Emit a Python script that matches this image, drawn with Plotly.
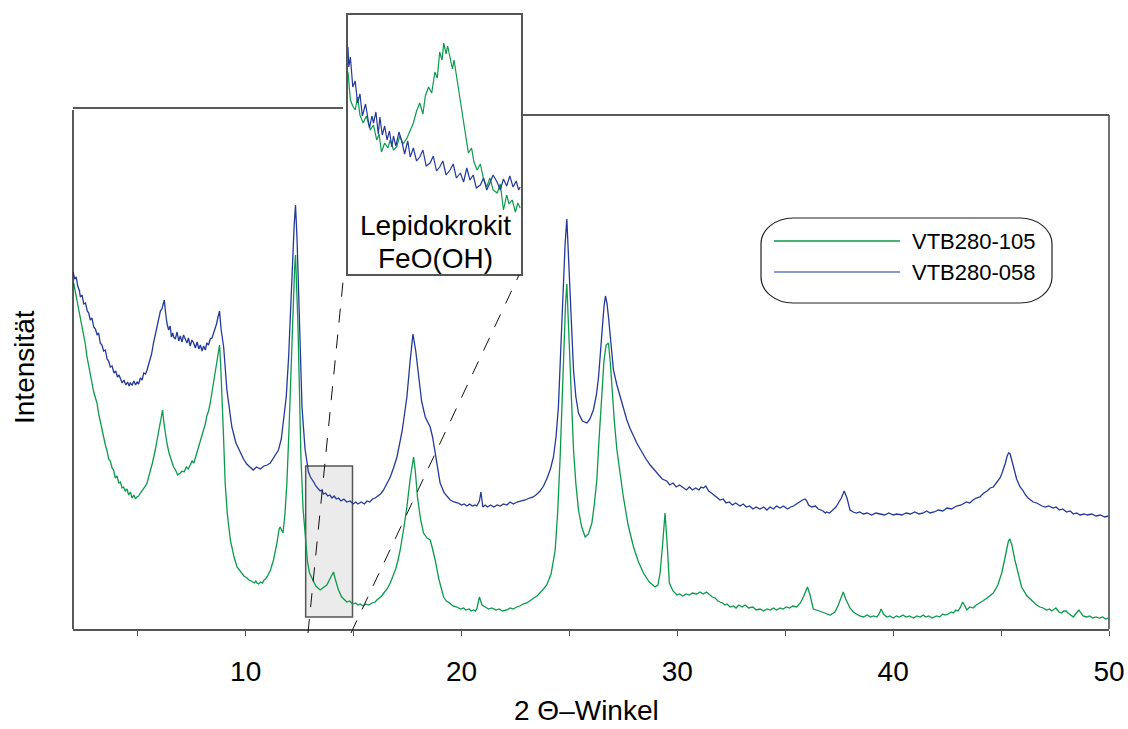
import plotly.graph_objects as go

# ---------------- data ----------------
# 2-theta positions and intensities (arbitrary units) for sample VTB280-058 (blue)
blue_2theta = [2.00, 2.08, 2.15, 2.22, 2.30, 2.34, 2.42, 2.50, 2.58, 2.66, 2.73, 2.80, 2.88, 2.96,
               3.04, 3.12, 3.19, 3.26, 3.34, 3.42, 3.50, 3.58, 3.65, 3.73, 3.81, 3.90, 3.98, 4.06,
               4.13, 4.19, 4.28, 4.36, 4.45, 4.53, 4.60, 4.65, 4.74, 4.82, 4.90, 4.97, 5.04, 5.12,
               5.20, 5.28, 5.36, 5.43, 5.55, 5.64, 5.73, 5.85, 5.97, 6.05, 6.12, 6.18, 6.23, 6.28,
               6.35, 6.43, 6.50, 6.56, 6.62, 6.66, 6.74, 6.82, 6.90, 6.97, 7.05, 7.12, 7.20, 7.28,
               7.35, 7.43, 7.51, 7.59, 7.67, 7.75, 7.83, 7.90, 7.98, 8.05, 8.13, 8.20, 8.28, 8.36,
               8.44, 8.55, 8.65, 8.72, 8.79, 8.86, 8.98, 9.13, 9.36, 9.55, 9.75, 9.90, 10.05, 10.21,
               10.35, 10.50, 10.68, 10.85, 11.00, 11.14, 11.30, 11.52, 11.65, 11.75, 11.88, 11.99,
               12.08, 12.17, 12.25, 12.31, 12.38, 12.45, 12.53, 12.61, 12.75,
               12.91, 13.00, 13.10, 13.18, 13.25, 13.35, 13.45, 13.53, 13.60, 13.70, 13.80, 13.90,
               14.00, 14.10, 14.20, 14.30, 14.42, 14.55, 14.68, 14.84, 14.98, 15.10, 15.20, 15.35,
               15.50, 15.62, 15.75, 15.88, 16.00, 16.12, 16.25, 16.39, 16.55, 16.70, 16.85, 17.01,
               17.25, 17.47, 17.62, 17.75, 17.88, 18.01, 18.15, 18.32, 18.45, 18.55, 18.66, 18.78,
               18.90, 19.01, 19.20,
               19.48, 19.65, 19.85, 20.00, 20.12, 20.25, 20.38, 20.50, 20.62, 20.71, 20.83, 20.90,
               20.99, 21.10, 21.20, 21.35, 21.50, 21.65, 21.79, 21.95, 22.10, 22.25, 22.40, 22.57,
               22.75, 22.95, 23.15, 23.33, 23.50, 23.64, 23.80, 23.95,
               24.12, 24.26, 24.38, 24.49, 24.60, 24.70, 24.80, 24.88, 24.95, 25.03, 25.10, 25.19,
               25.30, 25.42, 25.60, 25.81, 25.95, 26.11, 26.25, 26.35, 26.45, 26.53, 26.60, 26.67,
               26.74, 26.81, 26.92, 27.04, 27.20, 27.35, 27.50, 27.66, 27.80, 27.90, 28.00,
               28.12, 28.25, 28.40, 28.55, 28.74, 28.90, 29.10, 29.30, 29.51, 29.65, 29.80, 29.95,
               30.10, 30.28, 30.42, 30.56, 30.70, 30.85, 31.00, 31.10, 31.21, 31.32, 31.45, 31.58,
               31.70, 31.84, 31.98, 32.12, 32.26, 32.40, 32.55, 32.70, 32.91, 33.05, 33.20, 33.35,
               33.50, 33.65, 33.83, 34.00, 34.15, 34.30, 34.45, 34.60, 34.76, 34.92, 35.10, 35.25,
               35.38,
               35.52, 35.65, 35.80, 35.92, 36.00, 36.08, 36.23, 36.40, 36.53, 36.65, 36.75, 36.85,
               36.92, 37.05, 37.20, 37.35, 37.46, 37.60, 37.73, 37.86, 38.00, 38.15, 38.30, 38.45,
               38.62, 38.80, 39.00, 39.20, 39.40, 39.60, 39.80, 40.00, 40.17, 40.40, 40.60, 40.80,
               41.00, 41.20, 41.40, 41.55, 41.71, 41.90, 42.10, 42.30, 42.50, 42.70, 42.94, 43.15,
               43.40, 43.55, 43.70, 43.85, 44.02, 44.20, 44.35, 44.50, 44.64, 44.75, 44.85, 44.95,
               45.03, 45.12, 45.20, 45.28, 45.35, 45.42, 45.50, 45.57, 45.65, 45.72, 45.80, 45.88,
               46.00, 46.10, 46.25, 46.40, 46.49, 46.65, 46.80, 46.90, 47.05, 47.20, 47.42, 47.55,
               47.70, 47.85, 48.04, 48.20, 48.35, 48.50, 48.66, 48.85, 49.00, 49.20, 49.40, 49.60,
               49.80, 49.97]
blue_int = [357, 350, 352, 343, 338, 332, 334, 325, 326, 318, 316, 309, 311, 302,
            300, 294, 296, 286, 284, 278, 279, 270, 268, 262, 263, 256, 258, 252,
            254, 251, 246, 249, 244, 247, 243, 246, 244, 248, 244, 247, 245, 251,
            249, 256, 255, 259, 268, 275, 286, 298, 312, 318, 320, 326, 329, 318,
            306, 299, 303, 292, 296, 292, 290, 297, 288, 293, 287, 294, 289, 286,
            291, 283, 289, 286, 281, 287, 280, 284, 278, 283, 279, 286, 284, 290,
            291, 298, 305, 312, 318, 300, 282, 239, 202, 186, 176, 170, 165, 162,
            159, 162, 160, 163, 164, 166, 171, 179, 190, 206, 232, 272,
            318, 372, 405, 424, 390, 339, 275, 222, 180,
            157, 152, 149, 146, 143, 141, 138, 139, 135, 136, 133, 134,
            131, 133, 130, 131, 128, 130, 127, 128, 125, 127, 125, 127,
            125, 128, 127, 130, 131, 133, 135, 139, 145, 152, 161, 172,
            198, 232, 268, 295, 278, 252, 228, 212, 206, 202, 192, 176,
            160, 146, 136,
            129, 127, 126, 124, 125, 123, 125, 123, 124, 123, 128, 137,
            122, 124, 122, 124, 122, 124, 123, 125, 124, 127, 125, 127,
            128, 129, 131, 132, 135, 138, 143, 150,
            160, 172, 192, 222, 280, 339, 385, 410, 372, 329, 290, 259,
            232, 216, 208, 206, 210, 219, 234, 252, 280, 306, 322, 333,
            326, 312, 285, 259, 244, 232, 220, 209, 201, 196, 191,
            186, 181, 175, 170, 164, 160, 155, 150, 148, 144, 146, 142,
            144, 141, 139, 142, 139, 141, 139, 142, 141, 143, 138, 136,
            134, 131, 129, 130, 126, 127, 124, 126, 123, 125, 122, 123,
            120, 122, 120, 122, 119, 122, 120, 123, 121, 123, 120, 122,
            123,
            125, 127, 129, 130, 128, 124, 122, 123, 120, 119, 118, 116,
            117, 116, 119, 122, 126, 131, 138, 131, 119, 117, 116, 117,
            115, 116, 114, 116, 115, 114, 116, 114, 115, 114, 116, 115,
            117, 115, 116, 118, 116, 117, 119, 118, 121, 120, 123, 124,
            127, 126, 129, 131, 132, 136, 138, 141, 142, 145, 148, 151,
            155, 160, 166, 173, 176, 175, 168, 162, 155, 150, 146, 142,
            139, 135, 131, 129, 127, 126, 124, 123, 122, 123, 121, 122,
            119, 120, 117, 118, 115, 116, 114, 115, 114, 115, 113, 114,
            112, 113]

# Sample VTB280-105 (green)
green_2theta = [2.03, 2.10, 2.18, 2.26, 2.34, 2.42, 2.49, 2.57, 2.65, 2.72, 2.80, 2.88, 2.96, 3.04,
                3.11, 3.19, 3.27, 3.34, 3.42, 3.50, 3.58, 3.65, 3.73, 3.81, 3.88, 3.96, 4.04, 4.12,
                4.20, 4.27, 4.34, 4.42, 4.50, 4.58, 4.66, 4.74, 4.82, 4.90, 4.96, 5.04, 5.12, 5.20,
                5.28, 5.36, 5.43, 5.55, 5.68, 5.81, 5.93, 6.04, 6.10, 6.15, 6.22, 6.28, 6.35, 6.45,
                6.55, 6.66, 6.75, 6.85, 6.97, 7.05, 7.15, 7.25, 7.34, 7.43, 7.52, 7.60, 7.68, 7.74,
                7.82, 7.90, 7.97, 8.05, 8.13, 8.20, 8.28, 8.36, 8.45, 8.52, 8.59, 8.66, 8.72, 8.79,
                8.84, 8.90, 8.97, 9.05, 9.15, 9.29, 9.45, 9.60, 9.80,
                9.92, 10.06, 10.15, 10.25, 10.33, 10.40, 10.47, 10.52, 10.60, 10.70, 10.78, 10.85,
                10.92, 10.99,
                11.15, 11.29, 11.45, 11.55, 11.60, 11.67, 11.73, 11.82, 11.91, 12.00, 12.10, 12.16,
                12.22, 12.27, 12.31, 12.36, 12.42, 12.49, 12.56, 12.66, 12.76, 12.86, 12.96, 13.10,
                13.25, 13.45, 13.60, 13.76, 13.90, 14.00, 14.07, 14.15, 14.30,
                14.45, 14.57, 14.69, 14.82, 14.95, 15.10, 15.20, 15.31, 15.45, 15.57, 15.70, 15.85,
                16.00, 16.08, 16.20, 16.30, 16.40, 16.55, 16.70, 16.82, 16.95, 17.05, 17.16,
                17.32, 17.47, 17.62, 17.72, 17.78, 17.86, 17.96, 18.10, 18.24, 18.40, 18.55, 18.66,
                18.78, 18.95,
                19.17, 19.30, 19.45, 19.60, 19.79, 19.95, 20.10, 20.20, 20.35, 20.45, 20.56, 20.65,
                20.72, 20.83, 20.95, 21.10, 21.25, 21.40, 21.60, 21.75, 21.90, 22.10, 22.25, 22.40,
                22.55, 22.70, 22.85, 23.03, 23.20, 23.35, 23.50, 23.64, 23.80, 23.95, 24.05, 24.15,
                24.34, 24.46, 24.57, 24.67, 24.76, 24.82, 24.88, 24.94, 25.00, 25.10, 25.19, 25.30,
                25.42, 25.57, 25.73, 25.88, 26.04, 26.15, 26.27, 26.38, 26.50, 26.60, 26.70, 26.81,
                26.90, 26.97, 27.08, 27.20, 27.35, 27.50, 27.72, 27.97, 28.20, 28.43, 28.70, 28.97,
                29.10, 29.20, 29.32, 29.43, 29.53, 29.63, 29.80,
                29.98, 30.10, 30.25, 30.40, 30.55, 30.70, 30.90, 31.05, 31.20, 31.35, 31.52, 31.62,
                31.75, 31.88, 31.98, 32.10, 32.20, 32.30, 32.45, 32.60, 32.72, 32.85, 33.00, 33.14,
                33.30, 33.50, 33.65, 33.83, 34.00, 34.15, 34.30, 34.45, 34.60, 34.76, 34.90, 35.05,
                35.20, 35.35, 35.53,
                35.70, 35.84, 35.95, 36.03, 36.15, 36.30, 36.58, 36.80, 37.08, 37.30, 37.46, 37.58,
                37.69, 37.80,
                38.00, 38.15, 38.30, 38.45, 38.62, 38.80, 38.95, 39.10, 39.24, 39.35, 39.44, 39.55,
                39.70, 39.85, 40.00, 40.15, 40.30, 40.45, 40.60, 40.75, 40.94, 41.10, 41.25, 41.40,
                41.50, 41.65, 41.80, 42.02, 42.15, 42.30, 42.40, 42.55, 42.70, 42.79, 42.90, 43.00,
                43.10, 43.22, 43.30, 43.41, 43.55, 43.70, 43.85, 44.02, 44.15,
                44.35, 44.64, 44.85, 45.03, 45.15, 45.26, 45.34, 45.41, 45.50, 45.64, 45.80, 45.95,
                46.20, 46.35, 46.49, 46.65, 46.80, 46.95, 47.11, 47.25, 47.35, 47.45, 47.54, 47.68,
                47.81, 47.90, 48.01, 48.10, 48.20, 48.35, 48.45, 48.55, 48.61, 48.70, 48.80, 48.97,
                49.10, 49.25, 49.40, 49.55, 49.70, 49.85, 49.97]
green_int = [346, 338, 330, 322, 314, 305, 296, 285, 272, 263, 252, 246, 237, 232,
             226, 215, 206, 200, 192, 184, 178, 170, 168, 161, 159, 151, 153, 146,
             147, 141, 142, 138, 140, 134, 137, 131, 134, 130, 132, 133, 136, 138,
             141, 143, 146, 155, 166, 179, 193, 206, 213, 219, 205, 195, 186, 176,
             168, 162, 159, 154, 156, 158, 157, 162, 160, 164, 168, 166, 172, 176,
             180, 186, 192, 199, 205, 213, 218, 226, 238, 248, 259, 268, 276, 284,
             265, 239, 195, 146, 115, 89, 73, 62, 56,
             53, 51, 49, 48, 47, 46, 48, 46, 45, 47, 46, 49,
             50, 52,
             59, 69, 86, 100, 102, 98, 96, 115, 146, 195, 256, 305,
             339, 362, 374, 350, 306, 240, 172, 120, 89, 68, 56, 50,
             43, 39, 41, 44, 50, 55, 57, 50, 39,
             32, 29, 27, 28, 25, 26, 24, 25, 23, 25, 24, 26,
             27, 29, 31, 33, 36, 40, 46, 52, 60, 68, 79,
             100, 122, 150, 165, 172, 158, 132, 110, 96, 91, 89, 80,
             69, 50,
             32, 28, 26, 23, 22, 20, 21, 19, 20, 18, 19, 18,
             21, 32, 24, 22, 20, 21, 19, 20, 18, 19, 21, 20,
             22, 23, 25, 26, 29, 31, 33, 36, 40, 44, 49, 55,
             79, 118, 172, 240, 289, 325, 345, 310, 272, 215, 179, 145,
             119, 102, 92, 95, 106, 124, 149, 192, 239, 268, 284, 286,
             265, 239, 208, 179, 154, 132, 104, 82, 67, 56, 47, 42,
             44, 56, 85, 116, 85, 46, 38,
             34, 35, 33, 35, 34, 36, 35, 37, 35, 37, 34, 32,
             31, 28, 27, 26, 24, 25, 22, 23, 21, 24, 22, 24,
             21, 22, 19, 20, 18, 20, 19, 21, 19, 21, 20, 22,
             21, 23, 22,
             26, 32, 38, 42, 34, 20, 18, 16, 14, 17, 24, 31,
             37, 30,
             21, 17, 15, 13, 12, 14, 12, 13, 12, 15, 20, 15,
             12, 13, 11, 13, 12, 14, 12, 13, 11, 13, 12, 14,
             12, 13, 11, 13, 12, 15, 14, 15, 17, 16, 19, 18,
             21, 27, 24, 19, 22, 21, 24, 26, 28,
             31, 36, 44, 56, 68, 82, 88, 90, 84, 69, 55, 42,
             33, 30, 27, 24, 22, 21, 19, 20, 18, 20, 21, 17,
             16, 18, 18, 16, 14, 12, 15, 18, 19, 16, 13, 12,
             13, 11, 12, 11, 12, 10, 11]

# Inset: zoomed section 12.8 - 15.0 deg (lepidocrocite reflection), own vertical scale
inset_2theta_green = [12.78, 12.81, 12.84, 12.87, 12.90, 12.93, 12.97, 13.01, 13.06, 13.10, 13.14, 13.17,
                      13.20, 13.24, 13.28, 13.31, 13.35, 13.39, 13.43, 13.47, 13.52, 13.56, 13.60, 13.64,
                      13.68, 13.72, 13.75, 13.79, 13.83, 13.87, 13.90, 13.93, 13.96, 13.98, 14.01, 14.03,
                      14.06, 14.09, 14.11, 14.13, 14.16, 14.19, 14.22, 14.25, 14.29, 14.33, 14.36, 14.40,
                      14.44, 14.48, 14.52, 14.56, 14.60, 14.65, 14.69, 14.73, 14.77, 14.80, 14.84, 14.88,
                      14.91, 14.94]
inset_int_green = [202, 174, 168, 164, 177, 159, 151, 158, 144, 149, 134, 140,
                   122, 131, 126, 134, 124, 127, 138, 130, 136, 144, 151, 163,
                   171, 160, 178, 187, 181, 202, 196, 222, 214, 231, 220, 228,
                   216, 205, 214, 204, 188, 174, 158, 141, 121, 126, 112, 104,
                   110, 95, 87, 96, 84, 81, 90, 64, 79, 70, 74, 62,
                   71, 66]
inset_2theta_blue = [12.78, 12.79, 12.81, 12.84, 12.87, 12.90, 12.93, 12.96, 13.00, 13.02, 13.05, 13.08,
                     13.10, 13.13, 13.16, 13.18, 13.21, 13.24, 13.27, 13.30, 13.33, 13.35, 13.38, 13.42,
                     13.46, 13.49, 13.53, 13.56, 13.60, 13.64, 13.68, 13.72, 13.76, 13.81, 13.85, 13.89,
                     13.93, 13.97, 14.01, 14.06, 14.10, 14.14, 14.19, 14.23, 14.27, 14.31, 14.35, 14.39,
                     14.44, 14.48, 14.52, 14.56, 14.60, 14.65, 14.69, 14.73, 14.77, 14.81, 14.85, 14.89,
                     14.92, 14.94]
inset_int_blue = [227, 207, 217, 187, 193, 171, 180, 158, 170, 161, 146, 158,
                  151, 162, 140, 157, 139, 148, 134, 143, 127, 138, 128, 142,
                  131, 120, 133, 117, 126, 113, 117, 124, 108, 111, 118, 103,
                  107, 113, 99, 104, 110, 96, 101, 92, 106, 94, 99, 86,
                  89, 96, 84, 91, 99, 92, 84, 95, 88, 98, 87, 93,
                  84, 87]

assert len(blue_2theta) == len(blue_int), (len(blue_2theta), len(blue_int))
assert len(green_2theta) == len(green_int), (len(green_2theta), len(green_int))
assert len(inset_2theta_green) == len(inset_int_green)
assert len(inset_2theta_blue) == len(inset_int_blue)

series_names = ["VTB280-105", "VTB280-058"]
tick_vals = [5, 10, 15, 20, 25, 30, 35, 40, 45, 50]
tick_text = ["", "10", "", "20", "", "30", "", "40", "", "50"]
x_range = [2, 50]
zoom_range = [12.78, 14.95]
zoom_rect_int = [12, 163]

# ---------------- layout helpers ----------------
W, H = 1128, 729
L, R, T, B = 73, 19, 15, 100
PW = W - L - R
PH = H - T - B
FONT = "Liberation Sans, Arial, sans-serif"
GREEN = "#0B9A4B"
BLUE = "#23399A"


def px(xp):
    return (xp - L) / PW


def py(yp):
    return (H - B - yp) / PH


fig = go.Figure()

fig.add_trace(go.Scatter(x=green_2theta, y=green_int, mode="lines", name=series_names[0],
                         line=dict(color=GREEN, width=1.3), showlegend=False))
fig.add_trace(go.Scatter(x=blue_2theta, y=blue_int, mode="lines", name=series_names[1],
                         line=dict(color=BLUE, width=1.3), showlegend=False))

fig.add_trace(go.Scatter(x=inset_2theta_green, y=inset_int_green, mode="lines",
                         line=dict(color=GREEN, width=1.2), showlegend=False,
                         xaxis="x2", yaxis="y2"))
fig.add_trace(go.Scatter(x=inset_2theta_blue, y=inset_int_blue, mode="lines",
                         line=dict(color=BLUE, width=1.2), showlegend=False,
                         xaxis="x2", yaxis="y2"))

shapes = []
# zoom rectangle
shapes.append(dict(type="rect", xref="x", yref="y", x0=zoom_range[0], x1=zoom_range[1],
                   y0=zoom_rect_int[0], y1=zoom_rect_int[1], fillcolor="#EBEBEB",
                   line=dict(color="#555555", width=1.5), layer="below"))
# dashed connectors
for (a, b, c, d) in [(308, 633, 344, 272), (351, 633, 519, 275)]:
    shapes.append(dict(type="line", xref="paper", yref="paper", x0=px(a), y0=py(b), x1=px(c), y1=py(d),
                       line=dict(color="#111111", width=1, dash="14px,12px")))
# frame lines
frame = [(73, 110, 73, 629, "#222222"), (73, 108, 343, 108, "#222222"),
         (523, 115, 1109, 115, "#222222"), (1109, 115, 1109, 629, "#444444")]
for (a, b, c, d, col) in frame:
    shapes.append(dict(type="line", xref="paper", yref="paper", x0=px(a), y0=py(b), x1=px(c), y1=py(d),
                       line=dict(color=col, width=1.5)))

# legend box (rounded)
lx0, lx1, ly0, ly1, rx, ry = 761, 1052, 218, 303, 32, 26
k = 0.55
path = (f"M {px(lx0+rx)} {py(ly0)} L {px(lx1-rx)} {py(ly0)} "
        f"C {px(lx1-rx+k*rx)} {py(ly0)} {px(lx1)} {py(ly0+ry-k*ry)} {px(lx1)} {py(ly0+ry)} "
        f"L {px(lx1)} {py(ly1-ry)} "
        f"C {px(lx1)} {py(ly1-ry+k*ry)} {px(lx1-rx+k*rx)} {py(ly1)} {px(lx1-rx)} {py(ly1)} "
        f"L {px(lx0+rx)} {py(ly1)} "
        f"C {px(lx0+rx-k*rx)} {py(ly1)} {px(lx0)} {py(ly1-ry+k*ry)} {px(lx0)} {py(ly1-ry)} "
        f"L {px(lx0)} {py(ly0+ry)} "
        f"C {px(lx0)} {py(ly0+ry-k*ry)} {px(lx0+rx-k*rx)} {py(ly0)} {px(lx0+rx)} {py(ly0)} Z")
shapes.append(dict(type="path", xref="paper", yref="paper", path=path,
                   line=dict(color="#222222", width=1.2), fillcolor="rgba(0,0,0,0)"))
for yy, col in [(241, GREEN), (272, "#6677C0")]:
    shapes.append(dict(type="line", xref="paper", yref="paper", x0=px(774), x1=px(900), y0=py(yy), y1=py(yy),
                       line=dict(color=col, width=1.3)))

annotations = []
for yy, name in [(241, series_names[0]), (272, series_names[1])]:
    annotations.append(dict(x=px(910), y=py(yy), xref="paper", yref="paper", text=name, showarrow=False,
                            xanchor="left", yanchor="middle", font=dict(size=22, color="black", family=FONT)))
annotations.append(dict(x=px(435), y=py(225), xref="paper", yref="paper", text="Lepidokrokit", showarrow=False,
                        xanchor="center", yanchor="middle", font=dict(size=28, color="black", family=FONT)))
annotations.append(dict(x=px(435), y=py(258), xref="paper", yref="paper", text="FeO(OH)", showarrow=False,
                        xanchor="center", yanchor="middle", font=dict(size=28, color="black", family=FONT)))
annotations.append(dict(x=px(586), y=py(728), xref="paper", yref="paper", text="2 Θ–Winkel", showarrow=False,
                        xanchor="center", yanchor="bottom", font=dict(size=28, color="black", family=FONT)))
annotations.append(dict(x=px(24), y=py(367), xref="paper", yref="paper", text="Intensität", showarrow=False,
                        textangle=-90, xanchor="center", yanchor="middle",
                        font=dict(size=28, color="black", family=FONT)))

fig.update_layout(
    width=W, height=H,
    margin=dict(l=L, r=R, t=T, b=B, pad=0, autoexpand=False),
    paper_bgcolor="white", plot_bgcolor="rgba(0,0,0,0)",
    font=dict(family=FONT, color="black"),
    shapes=shapes, annotations=annotations,
    xaxis=dict(range=x_range, domain=[0, 1], showgrid=False, zeroline=False, automargin=False,
               showline=True, linecolor="#555555", linewidth=1.5,
               ticks="outside", ticklen=5, tickwidth=1.2, tickcolor="#555555",
               tickvals=tick_vals, ticktext=tick_text, tickfont=dict(size=28, family=FONT),
               ticklabelstandoff=12),
    yaxis=dict(range=[0, PH], domain=[0, 1], showgrid=False, zeroline=False, showline=False,
               showticklabels=False, ticks="", automargin=False),
    xaxis2=dict(range=zoom_range, domain=[px(348), px(521)], anchor="y2", showgrid=False, zeroline=False,
                showline=True, mirror=True, linecolor="#555555", linewidth=1.5,
                showticklabels=False, ticks="", automargin=False),
    yaxis2=dict(range=[0, 259], domain=[py(274), py(15)], anchor="x2", showgrid=False, zeroline=False,
                showline=True, mirror=True, linecolor="#555555", linewidth=1.5,
                showticklabels=False, ticks="", automargin=False),
)

fig.write_html("out.html")
